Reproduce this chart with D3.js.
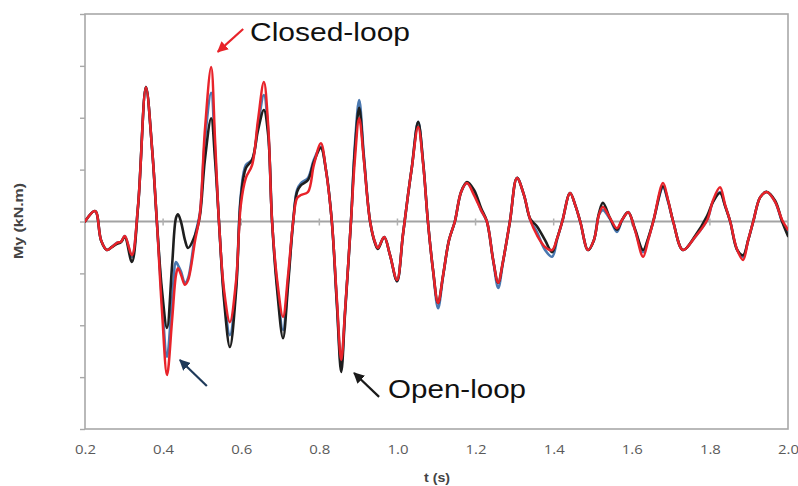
<!DOCTYPE html>
<html>
<head>
<meta charset="utf-8">
<script src="https://cdn.jsdelivr.net/npm/d3@7"></script>
<style>
  html, body { margin: 0; padding: 0; background: #fff; }
  svg { display: block; }
</style>
</head>
<body>
<svg id="chart" width="798" height="486"></svg>
<script>
// Time stamps (s)
const time = [0.200,0.226,0.241,0.256,0.269,0.282,0.292,0.302,0.320,0.336,0.356,0.372,0.384,0.397,0.410,0.423,0.433,0.438,0.446,0.456,0.464,0.482,0.494,0.507,0.523,0.533,0.543,0.556,0.571,0.587,0.599,0.612,0.628,0.643,0.658,0.669,0.679,0.692,0.707,0.720,0.733,0.743,0.753,0.771,0.786,0.804,0.817,0.832,0.845,0.856,0.866,0.881,0.891,0.902,0.914,0.930,0.943,0.950,0.966,0.981,0.999,1.014,1.027,1.037,1.053,1.066,1.078,1.091,1.104,1.117,1.132,1.147,1.163,1.178,1.196,1.214,1.229,1.245,1.258,1.270,1.288,1.306,1.324,1.340,1.357,1.378,1.396,1.409,1.422,1.442,1.455,1.468,1.488,1.503,1.516,1.526,1.544,1.562,1.575,1.591,1.608,1.629,1.642,1.655,1.680,1.693,1.706,1.731,1.762,1.793,1.808,1.826,1.839,1.852,1.870,1.885,1.898,1.911,1.929,1.946,1.967,1.985,2.000];

// Closed-loop moment My (kN.m) - red
const closedLoop = [0,0.20,-0.36,-0.55,-0.49,-0.41,-0.39,-0.28,-0.65,0.32,2.59,1.38,0,-1.71,-2.96,-1.90,-1.03,-0.90,-1.03,-1.22,-1.13,-0.36,0.13,1.76,2.98,1.57,0,-1.32,-1.94,-1.13,0.32,0.84,1.09,1.96,2.69,1.86,0,-1.13,-1.84,-1.03,0,0.45,0.51,0.57,1.09,1.51,0.99,0,-1.51,-2.67,-1.71,0,1.19,1.99,1.19,0,-0.41,-0.51,-0.30,-0.65,-1.13,-0.26,0.51,1.05,1.82,1.09,0,-0.93,-1.57,-1.03,-0.36,0,0.57,0.74,0.51,0.22,0,-0.74,-1.18,-0.78,0,0.84,0.51,0.03,-0.26,-0.49,-0.55,-0.32,0,0.55,0.32,0,-0.55,-0.36,0.13,0.28,0.07,-0.13,0.03,0.18,-0.16,-0.68,-0.36,0,0.74,0.41,0,-0.55,-0.30,0.03,0.41,0.66,0.32,0,-0.55,-0.74,-0.36,0,0.47,0.57,0.38,0.03,-0.16];

// Intermediate response - blue
const blueSeries = [0,0.20,-0.36,-0.55,-0.49,-0.41,-0.39,-0.28,-0.68,0.32,2.59,1.38,0,-1.51,-2.61,-1.51,-0.78,-0.84,-0.97,-1.19,-1.09,-0.26,0.15,1.57,2.48,1.38,0,-1.42,-2.19,-1.22,0.51,1.09,1.19,1.86,2.44,1.76,0,-1.22,-2.09,-1.13,0,0.61,0.74,0.84,1.19,1.44,0.99,0,-1.57,-2.77,-1.71,0,1.47,2.34,1.28,0,-0.41,-0.51,-0.30,-0.65,-1.15,-0.26,0.51,1.05,1.92,1.12,0,-0.93,-1.67,-1.05,-0.36,0,0.57,0.74,0.55,0.22,0,-0.74,-1.28,-0.80,0,0.84,0.51,0.03,-0.20,-0.55,-0.68,-0.34,0,0.55,0.32,0,-0.55,-0.36,0.13,0.22,0.05,-0.20,0.02,0.18,-0.16,-0.59,-0.34,0,0.65,0.38,0,-0.55,-0.30,0.03,0.38,0.57,0.30,0,-0.55,-0.68,-0.36,0,0.47,0.57,0.38,0.00,-0.20];

// Open-loop moment My (kN.m) - black
const openLoop = [0,0.20,-0.36,-0.55,-0.49,-0.43,-0.40,-0.30,-0.78,0.30,2.59,1.38,0,-1.32,-2.05,-0.84,0.07,0.14,-0.01,-0.36,-0.51,-0.26,0.10,1.19,1.99,1.19,0,-1.51,-2.42,-1.32,0.45,1.03,1.19,1.76,2.15,1.67,0,-1.32,-2.25,-1.22,0,0.57,0.70,0.80,1.15,1.42,0.99,0,-1.61,-2.90,-1.75,0,1.38,2.19,1.22,0,-0.43,-0.53,-0.30,-0.65,-1.15,-0.26,0.51,1.05,1.92,1.12,0,-0.93,-1.57,-1.03,-0.36,0,0.57,0.76,0.61,0.26,0,-0.74,-1.18,-0.78,0,0.84,0.51,0.05,-0.09,-0.36,-0.59,-0.32,0,0.55,0.32,0,-0.55,-0.36,0.16,0.36,0.07,-0.16,0.03,0.18,-0.14,-0.55,-0.32,0,0.68,0.40,0,-0.55,-0.28,0.11,0.38,0.55,0.30,0,-0.55,-0.65,-0.36,0,0.47,0.57,0.40,0.00,-0.28];

const xTicks = [0.2,0.4,0.6,0.8,1.0,1.2,1.4,1.6,1.8,2.0];
const yTicks = [-4,-3,-2,-1,0,1,2,3,4];

const svg = d3.select("#chart");
const plotLeft = 85, plotRight = 788, plotTop = 14, plotBottom = 429;

const x = d3.scaleLinear().domain([0.2, 2.0]).range([plotLeft, plotRight]);
const y = d3.scaleLinear().domain([-4, 4]).range([plotBottom, plotTop]);

// Plot frame
svg.append("rect")
  .attr("x", plotLeft).attr("y", plotTop)
  .attr("width", plotRight - plotLeft).attr("height", plotBottom - plotTop)
  .attr("fill", "none").attr("stroke", "#a8a8a8").attr("stroke-width", 1.6);

// Left tick marks (unlabelled)
svg.append("g")
  .attr("transform", `translate(${plotLeft},0)`)
  .call(d3.axisLeft(y).tickValues(yTicks).tickSize(5).tickFormat(""))
  .call(g => g.select(".domain").remove())
  .call(g => g.selectAll("line").attr("stroke", "#a8a8a8").attr("stroke-width", 1.4));

// Zero line with small tick marks
svg.append("line")
  .attr("x1", plotLeft).attr("x2", plotRight)
  .attr("y1", y(0)).attr("y2", y(0))
  .attr("stroke", "#a3a3a3").attr("stroke-width", 2);

svg.append("g")
  .selectAll("line")
  .data(xTicks.slice(1, -1))
  .join("line")
  .attr("x1", d => x(d)).attr("x2", d => x(d))
  .attr("y1", y(0) - 3).attr("y2", y(0) + 4)
  .attr("stroke", "#b0b0b0").attr("stroke-width", 1.5);

// Bottom tick labels
svg.append("g")
  .attr("transform", `translate(0,${plotBottom})`)
  .call(d3.axisBottom(x).tickValues(xTicks).tickSize(0).tickPadding(16).tickFormat(d3.format(".1f")))
  .call(g => g.select(".domain").remove())
  .call(g => g.selectAll("text")
    .attr("font-family", "'Open Sans', 'Liberation Sans', sans-serif")
    .attr("font-size", 13)
    .attr("fill", "#5a5a5a")
    .attr("textLength", 21)
    .attr("lengthAdjust", "spacingAndGlyphs"));

// Axis titles
svg.append("text")
  .attr("x", 437).attr("y", 482)
  .attr("text-anchor", "middle")
  .attr("font-family", "'Liberation Sans', Arial, sans-serif")
  .attr("font-weight", "bold").attr("font-size", 12.5)
  .attr("fill", "#444")
  .attr("textLength", 26)
  .attr("lengthAdjust", "spacingAndGlyphs")
  .text("t (s)");

svg.append("text")
  .attr("transform", "translate(23,221) rotate(-90)")
  .attr("text-anchor", "middle")
  .attr("font-family", "'Liberation Sans', Arial, sans-serif")
  .attr("font-weight", "bold").attr("font-size", 12)
  .attr("fill", "#444")
  .attr("textLength", 76)
  .attr("lengthAdjust", "spacingAndGlyphs")
  .text("My (kN.m)");

// Series lines
svg.append("clipPath").attr("id", "plot-clip")
  .append("rect").attr("x", plotLeft).attr("y", plotTop)
  .attr("width", plotRight - plotLeft).attr("height", plotBottom - plotTop);

const line = d3.line()
  .x(d => x(d[0]))
  .y(d => y(d[1]))
  .curve(d3.curveCatmullRom.alpha(0.5));

const series = [
  { values: blueSeries, color: "#4a78b0", width: 2.6 },
  { values: openLoop,   color: "#1e1e1e", width: 2.6 },
  { values: closedLoop, color: "#e8232a", width: 2.5 }
];

svg.append("g")
  .attr("clip-path", "url(#plot-clip)")
  .selectAll("path")
  .data(series)
  .join("path")
  .attr("d", s => line(time.map((t, i) => [t, s.values[i]])))
  .attr("fill", "none")
  .attr("stroke", s => s.color)
  .attr("stroke-width", s => s.width)
  .attr("stroke-linejoin", "round")
  .attr("stroke-linecap", "round");

// Annotations
const defs = svg.append("defs");
function marker(id, color) {
  defs.append("marker")
    .attr("id", id)
    .attr("viewBox", "0 0 10 10")
    .attr("refX", 9).attr("refY", 5)
    .attr("markerWidth", 5).attr("markerHeight", 5)
    .attr("markerUnits", "strokeWidth")
    .attr("orient", "auto")
    .append("path")
    .attr("d", "M0,0 L10,5 L0,10 Z")
    .attr("fill", color);
}
marker("arrow-red", "#e8232a");
marker("arrow-navy", "#1f3a5a");
marker("arrow-black", "#1a1a1a");

const arrows = [
  { from: [0.605, 3.71], to: [0.540, 3.27], color: "#e8232a", id: "arrow-red" },
  { from: [0.512, -3.17], to: [0.443, -2.67], color: "#1f3a5a", id: "arrow-navy" },
  { from: [0.953, -3.38], to: [0.889, -2.92], color: "#1a1a1a", id: "arrow-black" }
];

svg.append("g")
  .selectAll("line")
  .data(arrows)
  .join("line")
  .attr("x1", d => x(d.from[0])).attr("y1", d => y(d.from[1]))
  .attr("x2", d => x(d.to[0])).attr("y2", d => y(d.to[1]))
  .attr("stroke", d => d.color)
  .attr("stroke-width", 2.2)
  .attr("marker-end", d => `url(#${d.id})`);

const labels = [
  { text: "Closed-loop", at: [0.6225, 3.48], len: 160 },
  { text: "Open-loop",   at: [0.9759, -3.40], len: 138 }
];

svg.append("g")
  .selectAll("text")
  .data(labels)
  .join("text")
  .attr("x", d => x(d.at[0])).attr("y", d => y(d.at[1]))
  .attr("font-family", "'Liberation Sans', Arial, sans-serif")
  .attr("font-size", 25)
  .attr("fill", "#111")
  .attr("textLength", d => d.len)
  .attr("lengthAdjust", "spacingAndGlyphs")
  .text(d => d.text);
</script>
</body>
</html>
